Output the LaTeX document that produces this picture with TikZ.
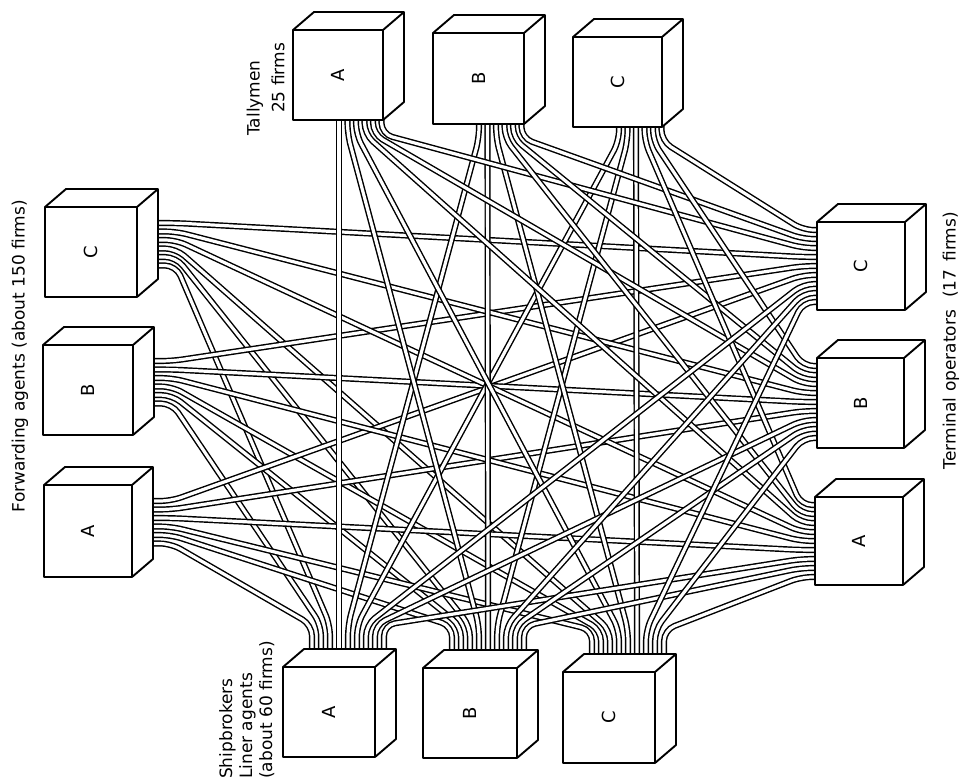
\documentclass[tikz,border=0pt]{standalone}
\usepackage{fontspec}
\setmainfont{DejaVu Sans}
\usepackage{graphicx}

% cube offset for the receding edges
\def\dx{21}
\def\dy{-18}

\tikzset{
  cubeface/.style={draw=black, fill=white, line width=1.9pt, line join=round},
  tube/.style={draw=black, double=white, double distance=3.2pt, line width=1.45pt,
               rounded corners=11pt},
  boxletter/.style={rotate=90, font=\fontsize{18}{18}\selectfont, inner sep=0pt},
  grouplabel/.style={rotate=90, font=\fontsize{17}{20}\selectfont, inner sep=0pt},
}

% a cube: name, x, y (top-left of front face), width, height, letter
\newcommand\drawcube[6]{%
  \fill[white] (#2,#3) -- ++(\dx,\dy) -- ++(#4,0) -- ++(0,#5) -- ++(-\dx,-\dy)
               -- ++(-#4,0) -- cycle;
  \draw[cubeface] (#2,#3) -- ++(\dx,\dy) -- ++(#4,0) -- ++(0,#5) -- ++(-\dx,-\dy);
  \draw[cubeface] (#2+#4,#3) -- ++(\dx,\dy);
  \node[cubeface, minimum width=#4pt, minimum height=#5pt, inner sep=0pt,
        outer sep=0pt, anchor=north west] (#1) at (#2,#3) {};
  \node[boxletter] (#1-l) at (#1.center) {#6};
}

% ports: p = hidden start inside the cube, q = end of the straight stub
\newcommand\topports[5]{% nine ports leaving the top face upwards
  \foreach \i in {0,...,8}{
    \coordinate (#1-p\i) at (#2+\dx+8+9*\i, #3+12);
    \coordinate (#1-q\i) at (#2+\dx+8+9*\i, #3+\dy-24);
  }}
\newcommand\rightports[5]{% six ports leaving the side face to the right
  \foreach \i in {0,...,5}{
    \coordinate (#1-p\i) at (#2+#4-10, #3+16+8.5*\i);
    \coordinate (#1-q\i) at (#2+#4+\dx+18, #3+16+8.5*\i);
  }}
\newcommand\bottomports[5]{% six ports leaving the front face downwards
  \foreach \i in {0,...,5}{
    \coordinate (#1-p\i) at (#2+46+8.5*\i, #3+#5-12);
    \coordinate (#1-q\i) at (#2+46+8.5*\i, #3+#5+14);
  }}
\newcommand\leftports[5]{% nine ports entering the front face from the left
  \foreach \i in {0,...,8}{
    \coordinate (#1-p\i) at (#2+12, #3+8+9*\i);
    \coordinate (#1-q\i) at (#2-14, #3+8+9*\i);
  }}

\begin{document}
\begin{tikzpicture}[x=1pt, y=-1pt]
\useasboundingbox (0,0) rectangle (965,782);

% ---- port coordinates ----
% shipbrokers / liner agents
\topports{SA}{283}{667}{92}{90}
\topports{SB}{423}{668}{94}{90}
\topports{SC}{563}{672}{92}{91}
% forwarding agents
\rightports{FA}{44}{485}{88}{92}
\rightports{FB}{43}{345}{90}{90}
\rightports{FC}{45}{207}{92}{90}
% tallymen
\bottomports{TA}{293}{30}{90}{90}
\bottomports{TB}{433}{33}{91}{91}
\bottomports{TC}{573}{37}{89}{90}
% terminal operators
\leftports{OA}{815}{497}{88}{88}
\leftports{OB}{817}{358}{87}{90}
\leftports{OC}{817}{222}{88}{88}

% ---- connecting tubes ----
% shipbrokers -- forwarding agents
\foreach \a/\i in {A/0,B/1,C/2}{
  \foreach \b/\j in {A/0,B/1,C/2}{
    \pgfmathtruncatemacro\k{5-\i}
    \draw[tube] (S\a-p\j) -- (S\a-q\j) -- (F\b-q\k) -- (F\b-p\k);
  }}
% forwarding agents -- terminal operators
\foreach \a/\i in {A/0,B/1,C/2}{
  \foreach \b/\j in {A/0,B/1,C/2}{
    \pgfmathtruncatemacro\k{2-\j}
    \pgfmathtruncatemacro\m{5-\i}
    \draw[tube] (F\a-p\k) -- (F\a-q\k) -- (O\b-q\m) -- (O\b-p\m);
  }}
% shipbrokers -- tallymen
\foreach \a/\i in {A/0,B/1,C/2}{
  \foreach \b/\j in {A/0,B/1,C/2}{
    \pgfmathtruncatemacro\k{3+\j}
    \draw[tube] (S\a-p\k) -- (S\a-q\k) -- (T\b-q\i) -- (T\b-p\i);
  }}
% tallymen -- terminal operators
\foreach \a/\i in {A/0,B/1,C/2}{
  \foreach \b/\j in {A/0,B/1,C/2}{
    \pgfmathtruncatemacro\k{3+\j}
    \pgfmathtruncatemacro\m{2-\i}
    \draw[tube] (T\a-p\k) -- (T\a-q\k) -- (O\b-q\m) -- (O\b-p\m);
  }}
% shipbrokers -- terminal operators
\foreach \a/\i in {A/0,B/1,C/2}{
  \foreach \b/\j in {A/0,B/1,C/2}{
    \pgfmathtruncatemacro\k{8-\j}
    \pgfmathtruncatemacro\m{6+\i}
    \draw[tube] (S\a-p\k) -- (S\a-q\k) -- (O\b-q\m) -- (O\b-p\m);
  }}

% ---- cubes ----
\drawcube{TA}{293}{30}{90}{90}{A}
\drawcube{TB}{433}{33}{91}{91}{B}
\drawcube{TC}{573}{37}{89}{90}{C}
\drawcube{FC}{45}{207}{92}{90}{C}
\drawcube{FB}{43}{345}{90}{90}{B}
\drawcube{FA}{44}{485}{88}{92}{A}
\drawcube{OC}{817}{222}{88}{88}{C}
\drawcube{OB}{817}{358}{87}{90}{B}
\drawcube{OA}{815}{497}{88}{88}{A}
\drawcube{SA}{283}{667}{92}{90}{A}
\drawcube{SB}{423}{668}{94}{90}{B}
\drawcube{SC}{563}{672}{92}{91}{C}

% ---- group labels ----
\node[grouplabel] (tallyname) at (255,98) {Tallymen};
\node[grouplabel] (tallyfirms) at (278,78) {25 firms};
\node[grouplabel, anchor=east] (forwlabel) at (20,200)
  {Forwarding agents (about 150 firms)};
\node[grouplabel, anchor=east] (termlabel) at (951,212)
  {Terminal operators\hspace{12pt}(17\hspace{8pt}firms)};
\node[grouplabel, align=left, anchor=north west] (shiplabel) at (219,779)
  {Shipbrokers\\Liner agents\\(about 60 firms)};
\end{tikzpicture}
\end{document}
